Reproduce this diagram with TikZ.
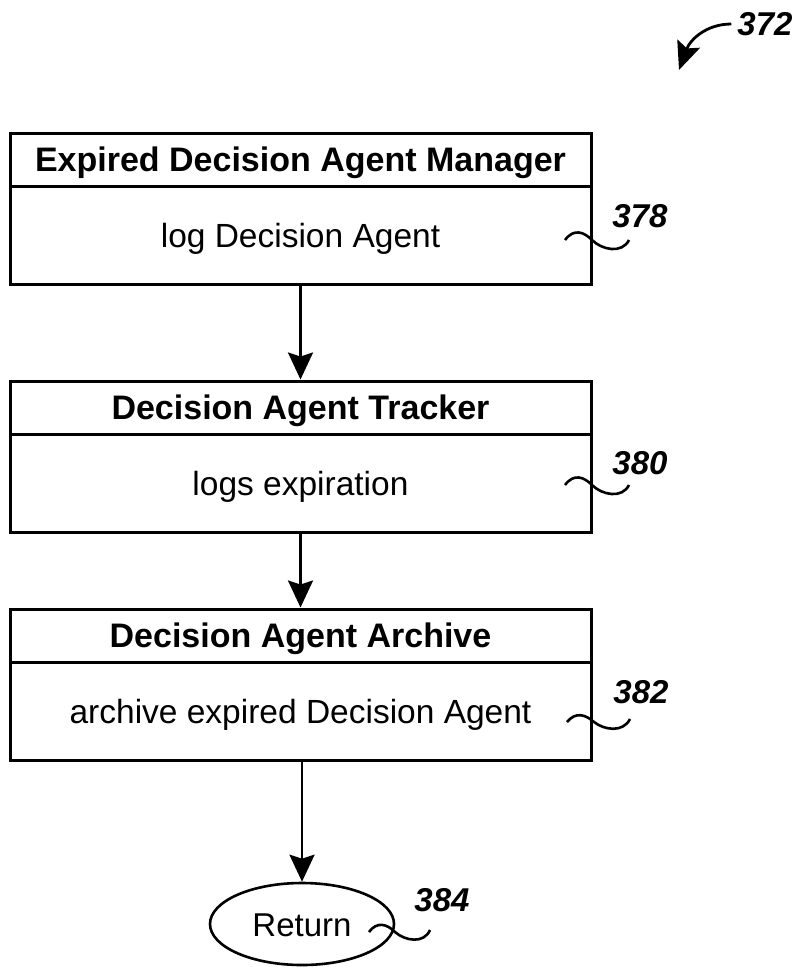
\documentclass[tikz,border=0pt]{standalone}
\usepackage{fontspec}
\setmainfont{Liberation Sans}
\usetikzlibrary{arrows.meta,shapes.geometric}
\begin{document}
\begin{tikzpicture}[x=1pt,y=-1pt,
  hdr/.style={draw, line width=3pt, minimum width=581pt, minimum height=53pt, inner sep=0pt,
    text height=24pt, text depth=0pt, font=\fontsize{34}{36}\selectfont\bfseries},
  bodybox/.style={draw, line width=3pt, minimum width=581pt, minimum height=98pt, inner sep=0pt,
    text height=24pt, text depth=0pt, font=\fontsize{33.5}{36}\selectfont},
  endbox/.style={draw, ellipse, line width=2.6pt, minimum width=184pt, minimum height=82pt, inner sep=0pt,
    text height=24pt, text depth=0pt, font=\fontsize{33}{36}\selectfont},
  flow/.style={line width=2.6pt, -{Stealth[length=27pt,width=25pt,inset=4pt]}},
  bigarrow/.style={line width=2.8pt, -{Stealth[length=28pt,width=24pt,inset=5pt]}},
  lead/.style={line width=2.6pt},
  refnum/.style={font=\fontsize{33}{36}\selectfont\bfseries\itshape, inner sep=2pt}]
\useasboundingbox (0,0) rectangle (806,967);

% box 1
\node[hdr] (t1) at (300.5,159.5) {Expired Decision Agent Manager};
\node[bodybox] (b1) at (300.5,235) {log Decision Agent};
% box 2
\node[hdr] (t2) at (300.5,407.5) {Decision Agent Tracker};
\node[bodybox] (b2) at (300.5,483) {logs expiration};
% box 3
\node[hdr] (t3) at (300.5,635.5) {Decision Agent Archive};
\node[bodybox] (b3) at (300.5,711) {archive expired Decision Agent};
% end
\node[endbox] (ret) at (302,924) {Return};

% connectors
\draw[flow] (b1.south) -- (t2.north);
\draw[flow] (b2.south) -- (t3.north);
\draw[flow] (b3.south -| ret.north) -- (ret.north);

% reference numerals
\node[refnum, inner sep=6pt] (l372) at (765,24) {372};
\coordinate (tip372) at (679,70);
\draw[bigarrow] (l372.west) .. controls (706,24) and (690,40) .. (tip372);

\node[refnum] (l378) at (640,216) {378};
\node[refnum] (l380) at (640,463) {380};
\node[refnum] (l382) at (641,692) {382};
\node[refnum] (l384) at (442,900) {384};

\draw[lead] (565,240) .. controls (574,228) and (584,232) .. (592,240) .. controls (602,250) and (622,254) .. (629,240);
\draw[lead] (565,485) .. controls (574,473) and (584,477) .. (592,485) .. controls (602,495) and (622,499) .. (629,485);
\draw[lead] (567,722) .. controls (576,711) and (586,715) .. (594,722) .. controls (604,730) and (623,733) .. (630,719);
\draw[lead] (369,932) .. controls (377,921) and (387,924) .. (395,932) .. controls (405,941) and (424,944) .. (430,930);
\end{tikzpicture}
\end{document}
